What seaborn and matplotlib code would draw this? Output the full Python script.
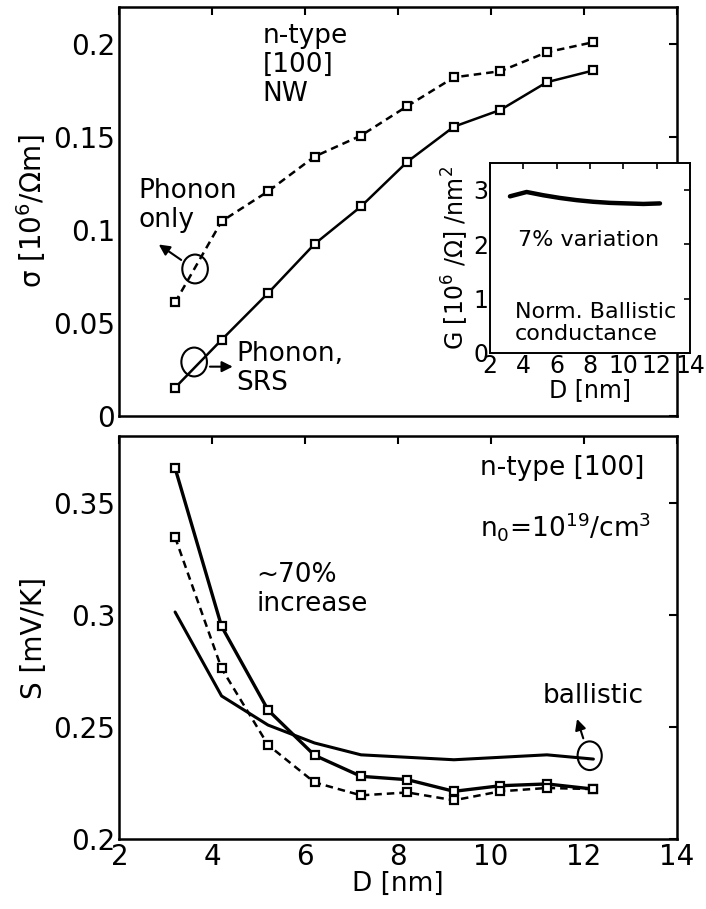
import numpy as np
import pandas as pd
import matplotlib
matplotlib.use("Agg")
import matplotlib.pyplot as plt
from matplotlib.patches import Ellipse
import seaborn as sns

# ---------------- data ----------------
D = [3.2, 4.2, 5.2, 6.2, 7.2, 8.2, 9.2, 10.2, 11.2, 12.2]

sigma_phonon = [0.061, 0.1046, 0.1207, 0.1394, 0.1507, 0.1666, 0.182, 0.1853, 0.1955, 0.2009]
sigma_srs = [0.0152, 0.0409, 0.066, 0.0924, 0.1126, 0.1367, 0.1555, 0.1645, 0.1794, 0.1857]

S_srs = [0.3657, 0.295, 0.2576, 0.2374, 0.228, 0.2265, 0.2213, 0.2238, 0.2246, 0.2223]
S_phonon = [0.3348, 0.2762, 0.242, 0.2253, 0.2195, 0.2208, 0.2173, 0.2213, 0.2228, 0.2223]
S_ballistic = [0.3014, 0.2639, 0.2509, 0.2429, 0.2376, 0.2365, 0.2354, 0.2365, 0.2376, 0.2357]

G_ballistic = [2.88, 2.96, 2.90, 2.85, 2.81, 2.78, 2.76, 2.75, 2.74, 2.75]

x_ticks = [2, 4, 6, 8, 10, 12, 14]
x_ticklabels = ["2", "4", "6", "8", "10", "12", "14"]
sig_ticks = [0, 0.05, 0.1, 0.15, 0.2]
sig_ticklabels = ["0", "0.05", "0.1", "0.15", "0.2"]
S_ticks = [0.2, 0.25, 0.3, 0.35]
S_ticklabels = ["0.2", "0.25", "0.3", "0.35"]
G_ticks = [0, 1, 2, 3]
G_ticklabels = ["0", "1", "2", "3"]

top_df = pd.DataFrame({"D": D, "phonon": sigma_phonon, "srs": sigma_srs})
bot_df = pd.DataFrame({"D": D, "srs": S_srs, "phonon": S_phonon, "ball": S_ballistic})
ins_df = pd.DataFrame({"D": D, "G": G_ballistic})

# ---------------- style ----------------
sns.set_style("white")
plt.rcParams["font.family"] = ["DejaVu Sans"]
plt.rcParams["mathtext.fontset"] = "dejavusans"
plt.rcParams["mathtext.default"] = "regular"
plt.rcParams["text.color"] = "black"
plt.rcParams["axes.labelcolor"] = "black"
plt.rcParams["xtick.color"] = "black"
plt.rcParams["ytick.color"] = "black"

FS_TICK = 20
FS = 19
FS_IN = 16
fig = plt.figure(figsize=(7.06, 9.09), dpi=100)
ax1 = fig.add_axes([0.169, 0.5424, 0.790, 0.4503])
ax2 = fig.add_axes([0.169, 0.0770, 0.790, 0.4433])
axi = fig.add_axes([0.694, 0.6117, 0.2833, 0.2094])

mk = dict(marker="s", markersize=6, markerfacecolor="white",
          markeredgecolor="black", markeredgewidth=1.6, color="black")


def style_axes(ax, fs):
    for s in ax.spines.values():
        s.set_visible(True)
        s.set_linewidth(1.8)
        s.set_color("black")
    ax.tick_params(direction="in", top=True, right=True, length=6,
                   width=1.5, labelsize=fs, pad=3, colors="black",
                   labelcolor="black")


# ---------------- top panel ----------------
sns.lineplot(data=top_df, x="D", y="phonon", ax=ax1, estimator=None,
             linestyle=(0, (3, 2)), linewidth=1.8, **mk)
sns.lineplot(data=top_df, x="D", y="srs", ax=ax1, estimator=None,
             linestyle="-", linewidth=1.8, **mk)
ax1.set_xlim(2, 14)
ax1.set_ylim(0, 0.22)
ax1.set_xticks(x_ticks)
ax1.set_xticklabels([])
ax1.set_yticks(sig_ticks)
ax1.set_yticklabels(sig_ticklabels)
ax1.set_xlabel("")
ax1.set_ylabel(r"σ [10$^6$/Ωm]", fontsize=FS_TICK, labelpad=4, color="black")
style_axes(ax1, FS_TICK)

ax1.text(5.08, 0.1888, "n-type\n[100]\nNW", fontsize=FS, ha="left", va="center",
         linespacing=1.15, color="black")
ax1.text(2.42, 0.113, "Phonon\nonly", fontsize=FS, ha="left", va="center",
         linespacing=1.15, color="black")
ax1.text(4.52, 0.0255, "Phonon,\nSRS", fontsize=FS, ha="left", va="center",
         linespacing=1.15, color="black")
ax1.add_patch(Ellipse((3.63, 0.079), 0.55, 0.0155, fill=False, lw=1.5, ec="black"))
ax1.add_patch(Ellipse((3.61, 0.029), 0.55, 0.0155, fill=False, lw=1.5, ec="black"))
ax1.annotate("", xy=(2.8, 0.093), xytext=(3.38, 0.083),
             arrowprops=dict(arrowstyle="-|>", color="black", lw=1.5,
                             mutation_scale=16))
ax1.annotate("", xy=(4.5, 0.0265), xytext=(3.89, 0.0265),
             arrowprops=dict(arrowstyle="-|>", color="black", lw=1.5,
                             mutation_scale=16))

# ---------------- inset ----------------
sns.lineplot(data=ins_df, x="D", y="G", ax=axi, estimator=None,
             color="black", linewidth=3.2)
axi.set_xlim(2, 14)
axi.set_ylim(0, 3.5)
axi.set_xticks(x_ticks)
axi.set_xticklabels(x_ticklabels)
axi.set_yticks(G_ticks)
axi.set_yticklabels(G_ticklabels)
axi.set_xlabel("D [nm]", fontsize=FS_IN + 1, labelpad=0, color="black")
axi.set_ylabel(r"G [10$^6$ /Ω] /nm$^2$", fontsize=FS_IN + 1, labelpad=2,
               color="black")
style_axes(axi, FS_IN + 1)
axi.tick_params(length=4, width=1.2, pad=1)
for s in axi.spines.values():
    s.set_linewidth(1.4)
axi.text(3.7, 2.08, "7% variation", fontsize=FS_IN, ha="left", va="center",
         color="black")
axi.text(3.5, 0.555, "Norm. Ballistic\nconductance", fontsize=FS_IN, ha="left",
         va="center", linespacing=1.1, color="black")

# ---------------- bottom panel ----------------
sns.lineplot(data=bot_df, x="D", y="srs", ax=ax2, estimator=None,
             linestyle="-", linewidth=2.4, **mk)
sns.lineplot(data=bot_df, x="D", y="phonon", ax=ax2, estimator=None,
             linestyle=(0, (3, 2)), linewidth=1.8, **mk)
sns.lineplot(data=bot_df, x="D", y="ball", ax=ax2, estimator=None,
             color="black", linewidth=2.2)
ax2.set_xlim(2, 14)
ax2.set_ylim(0.2, 0.38)
ax2.set_xticks(x_ticks)
ax2.set_xticklabels(x_ticklabels)
ax2.set_yticks(S_ticks)
ax2.set_yticklabels(S_ticklabels)
ax2.set_xlabel("D [nm]", fontsize=FS, labelpad=0, color="black")
ax2.set_ylabel("S [mV/K]", fontsize=FS_TICK, labelpad=4, color="black")
style_axes(ax2, FS_TICK)

ax2.text(4.95, 0.3113, "~70%\nincrease", fontsize=FS, ha="left", va="center",
         linespacing=1.15, color="black")
ax2.text(9.75, 0.3626, "n-type [100]", fontsize=FS, ha="left", va="baseline",
         color="black")
ax2.text(9.75, 0.335, r"n$_0$=10$^{19}$/cm$^3$", fontsize=FS, ha="left",
         va="baseline", color="black")
ax2.text(11.1, 0.2637, "ballistic", fontsize=FS, ha="left", va="center",
         color="black")
ax2.add_patch(Ellipse((12.12, 0.2372), 0.52, 0.0128, fill=False, lw=1.5, ec="black"))
ax2.annotate("", xy=(11.83, 0.2548), xytext=(12.0, 0.2438),
             arrowprops=dict(arrowstyle="-|>", color="black", lw=1.5,
                             mutation_scale=16))

fig.savefig("out.png", dpi=100)
